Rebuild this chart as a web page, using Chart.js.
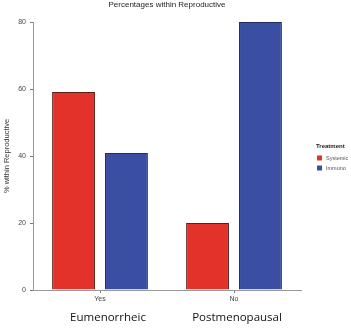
<!DOCTYPE html>
<html>
<head>
<meta charset="utf-8">
<script src="https://cdn.jsdelivr.net/npm/chart.js@4"></script>
<style>
  html, body { margin: 0; padding: 0; background: #fff; }
  #wrap { width: 351px; height: 328px; position: relative; }
</style>
</head>
<body>
<div id="wrap"><canvas id="chart"></canvas></div>
<script>
const categories = ['Yes', 'No'];
const groupLabels = ['Eumenorrheic', 'Postmenopausal'];
const systemicValues = [59.1, 20];
const immunoValues = [40.9, 80];
const yTicks = [0, 20, 40, 60, 80];

// title, legend and the big group labels under the axis
const extras = {
    id: 'extras',
    afterDraw(chart) {
        const ctx = chart.ctx;
        const x = chart.scales.x;
        ctx.save();
        ctx.fillStyle = '#222';
        ctx.textAlign = 'center';
        ctx.textBaseline = 'middle';
        ctx.font = '8px "Liberation Sans", Arial, sans-serif';
        ctx.fillText('Percentages within Reproductive', 167, 5);

        ctx.font = '11.5px "Open Sans", "Liberation Sans", sans-serif';
        ctx.fillStyle = '#111';
        groupLabels.forEach((lab, i) => {
            ctx.fillText(lab, x.getPixelForValue(i) + (i === 0 ? 8 : 3), 318);
        });

        // legend
        ctx.textAlign = 'left';
        ctx.fillStyle = '#222';
        ctx.font = 'bold 6px "Liberation Sans", Arial, sans-serif';
        ctx.fillText('Treatment', 316, 146);
        ctx.font = '5.5px "Liberation Sans", Arial, sans-serif';
        const items = [['Systemic', '#e3322a'], ['Immuno', '#3a4fa2']];
        items.forEach((it, i) => {
            const yy = 158 + i * 10;
            ctx.fillStyle = it[1];
            ctx.fillRect(317, yy - 2.5, 5, 5);
            ctx.fillStyle = '#555';
            ctx.fillText(it[0], 326, yy);
        });
        ctx.restore();
    }
};

new Chart(document.getElementById('chart'), {
    type: 'bar',
    data: {
        labels: categories,
        datasets: [
            {
                label: 'Systemic',
                data: systemicValues,
                backgroundColor: '#e3322a',
                borderColor: '#5a1c16',
                borderWidth: 1,
                barPercentage: 0.81,
                categoryPercentage: 0.79
            },
            {
                label: 'Immuno',
                data: immunoValues,
                backgroundColor: '#3a4fa2',
                borderColor: '#1f2a66',
                borderWidth: 1,
                barPercentage: 0.81,
                categoryPercentage: 0.79
            }
        ]
    },
    options: {
        responsive: true,
        maintainAspectRatio: false,
        animation: false,
        layout: { padding: { left: 0, top: 22, right: 50, bottom: 0 } },
        plugins: {
            legend: { display: false },
            title: { display: false },
            tooltip: { enabled: false }
        },
        scales: {
            x: {
                offset: true,
                grid: { offset: false, drawOnChartArea: false, drawTicks: true, tickLength: 3, color: '#777' },
                border: { color: '#999', width: 1 },
                ticks: { color: '#444', font: { size: 7, family: 'Liberation Sans' }, padding: 2 },
                afterFit(scale) { scale.height = 38; }
            },
            y: {
                min: 0,
                max: 80,
                afterBuildTicks(scale) { scale.ticks = yTicks.map(v => ({ value: v })); },
                grid: { drawOnChartArea: false, drawTicks: true, tickLength: 3, color: '#777' },
                border: { color: '#999', width: 1 },
                ticks: { color: '#444', font: { size: 7, family: 'Liberation Sans' }, padding: 4 },
                title: {
                    display: true,
                    text: '% within Reproductive',
                    color: '#333',
                    font: { size: 7.5, family: 'Liberation Sans' },
                    padding: { top: 2, bottom: 0 }
                },
                afterFit(scale) { scale.width = 33; }
            }
        }
    },
    plugins: [extras]
});
</script>
</body>
</html>
